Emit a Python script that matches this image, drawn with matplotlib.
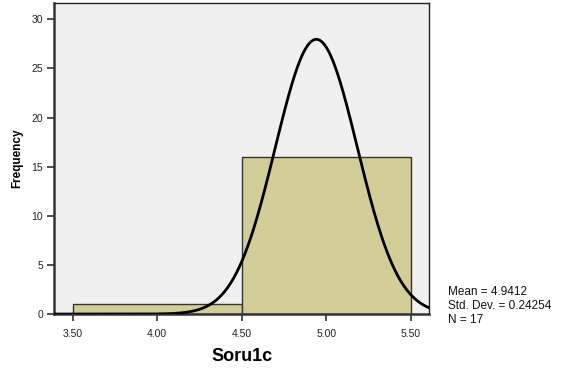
import numpy as np
import matplotlib
matplotlib.use("Agg")
from matplotlib import pyplot as plt

plt.rcParams['font.family'] = ['Liberation Sans', 'DejaVu Sans']

# histogram bins and counts for Soru1c
bin_edges = [3.5, 4.5, 5.5]
counts = [1, 16]
mean = 4.9412
std = 0.24254
n_obs = 17
x_ticks = [3.5, 4.0, 4.5, 5.0, 5.5]
x_ticklabels = ["3.50", "4.00", "4.50", "5.00", "5.50"]
y_ticks = [0, 5, 10, 15, 20, 25, 30]

fig = plt.figure(figsize=(5.71, 3.73), dpi=100)
ax = fig.add_axes([0.0946, 0.158, 0.6575, 0.835])
ax.set_facecolor("#F0F0F0")

widths = np.diff(bin_edges)
ax.bar(bin_edges[:-1], counts, width=widths, align="edge",
       color="#D3CE97", edgecolor="#333333", linewidth=1.0, zorder=2)

# normal curve scaled to counts (bin width 1)
xs = np.linspace(3.39, 5.61, 400)
bw = widths[0]
ys = n_obs * bw / (std * np.sqrt(2 * np.pi)) * np.exp(-0.5 * ((xs - mean) / std) ** 2)
ax.plot(xs, ys, color="black", linewidth=2.0, zorder=3)

ax.set_xlim(3.39, 5.61)
ax.set_ylim(0, 31.7)
ax.set_xticks(x_ticks)
ax.set_xticklabels(x_ticklabels)
ax.set_yticks(y_ticks)
ax.tick_params(axis="both", labelsize=7.5, length=5, width=1.2,
               color="#333333", labelcolor="#222222", pad=3)
ax.tick_params(axis="x", pad=6)

for side in ["left", "bottom"]:
    ax.spines[side].set_linewidth(1.8)
    ax.spines[side].set_color("#333333")
for side in ["top", "right"]:
    ax.spines[side].set_linewidth(1.0)
    ax.spines[side].set_color("#222222")

ax.set_xlabel("Soru1c", fontsize=13, fontweight="bold", labelpad=6)
ax.set_ylabel("Frequency", fontsize=8.5, fontweight="bold", labelpad=6)

stats = "Mean = %.4f\nStd. Dev. = %.5f\nN = %d" % (mean, std, n_obs)
fig.text(0.784, 0.126, stats,
         fontsize=8.5, va="bottom", ha="left", linespacing=1.2, color="#111111")

fig.savefig("out.png", dpi=100, facecolor="white")
